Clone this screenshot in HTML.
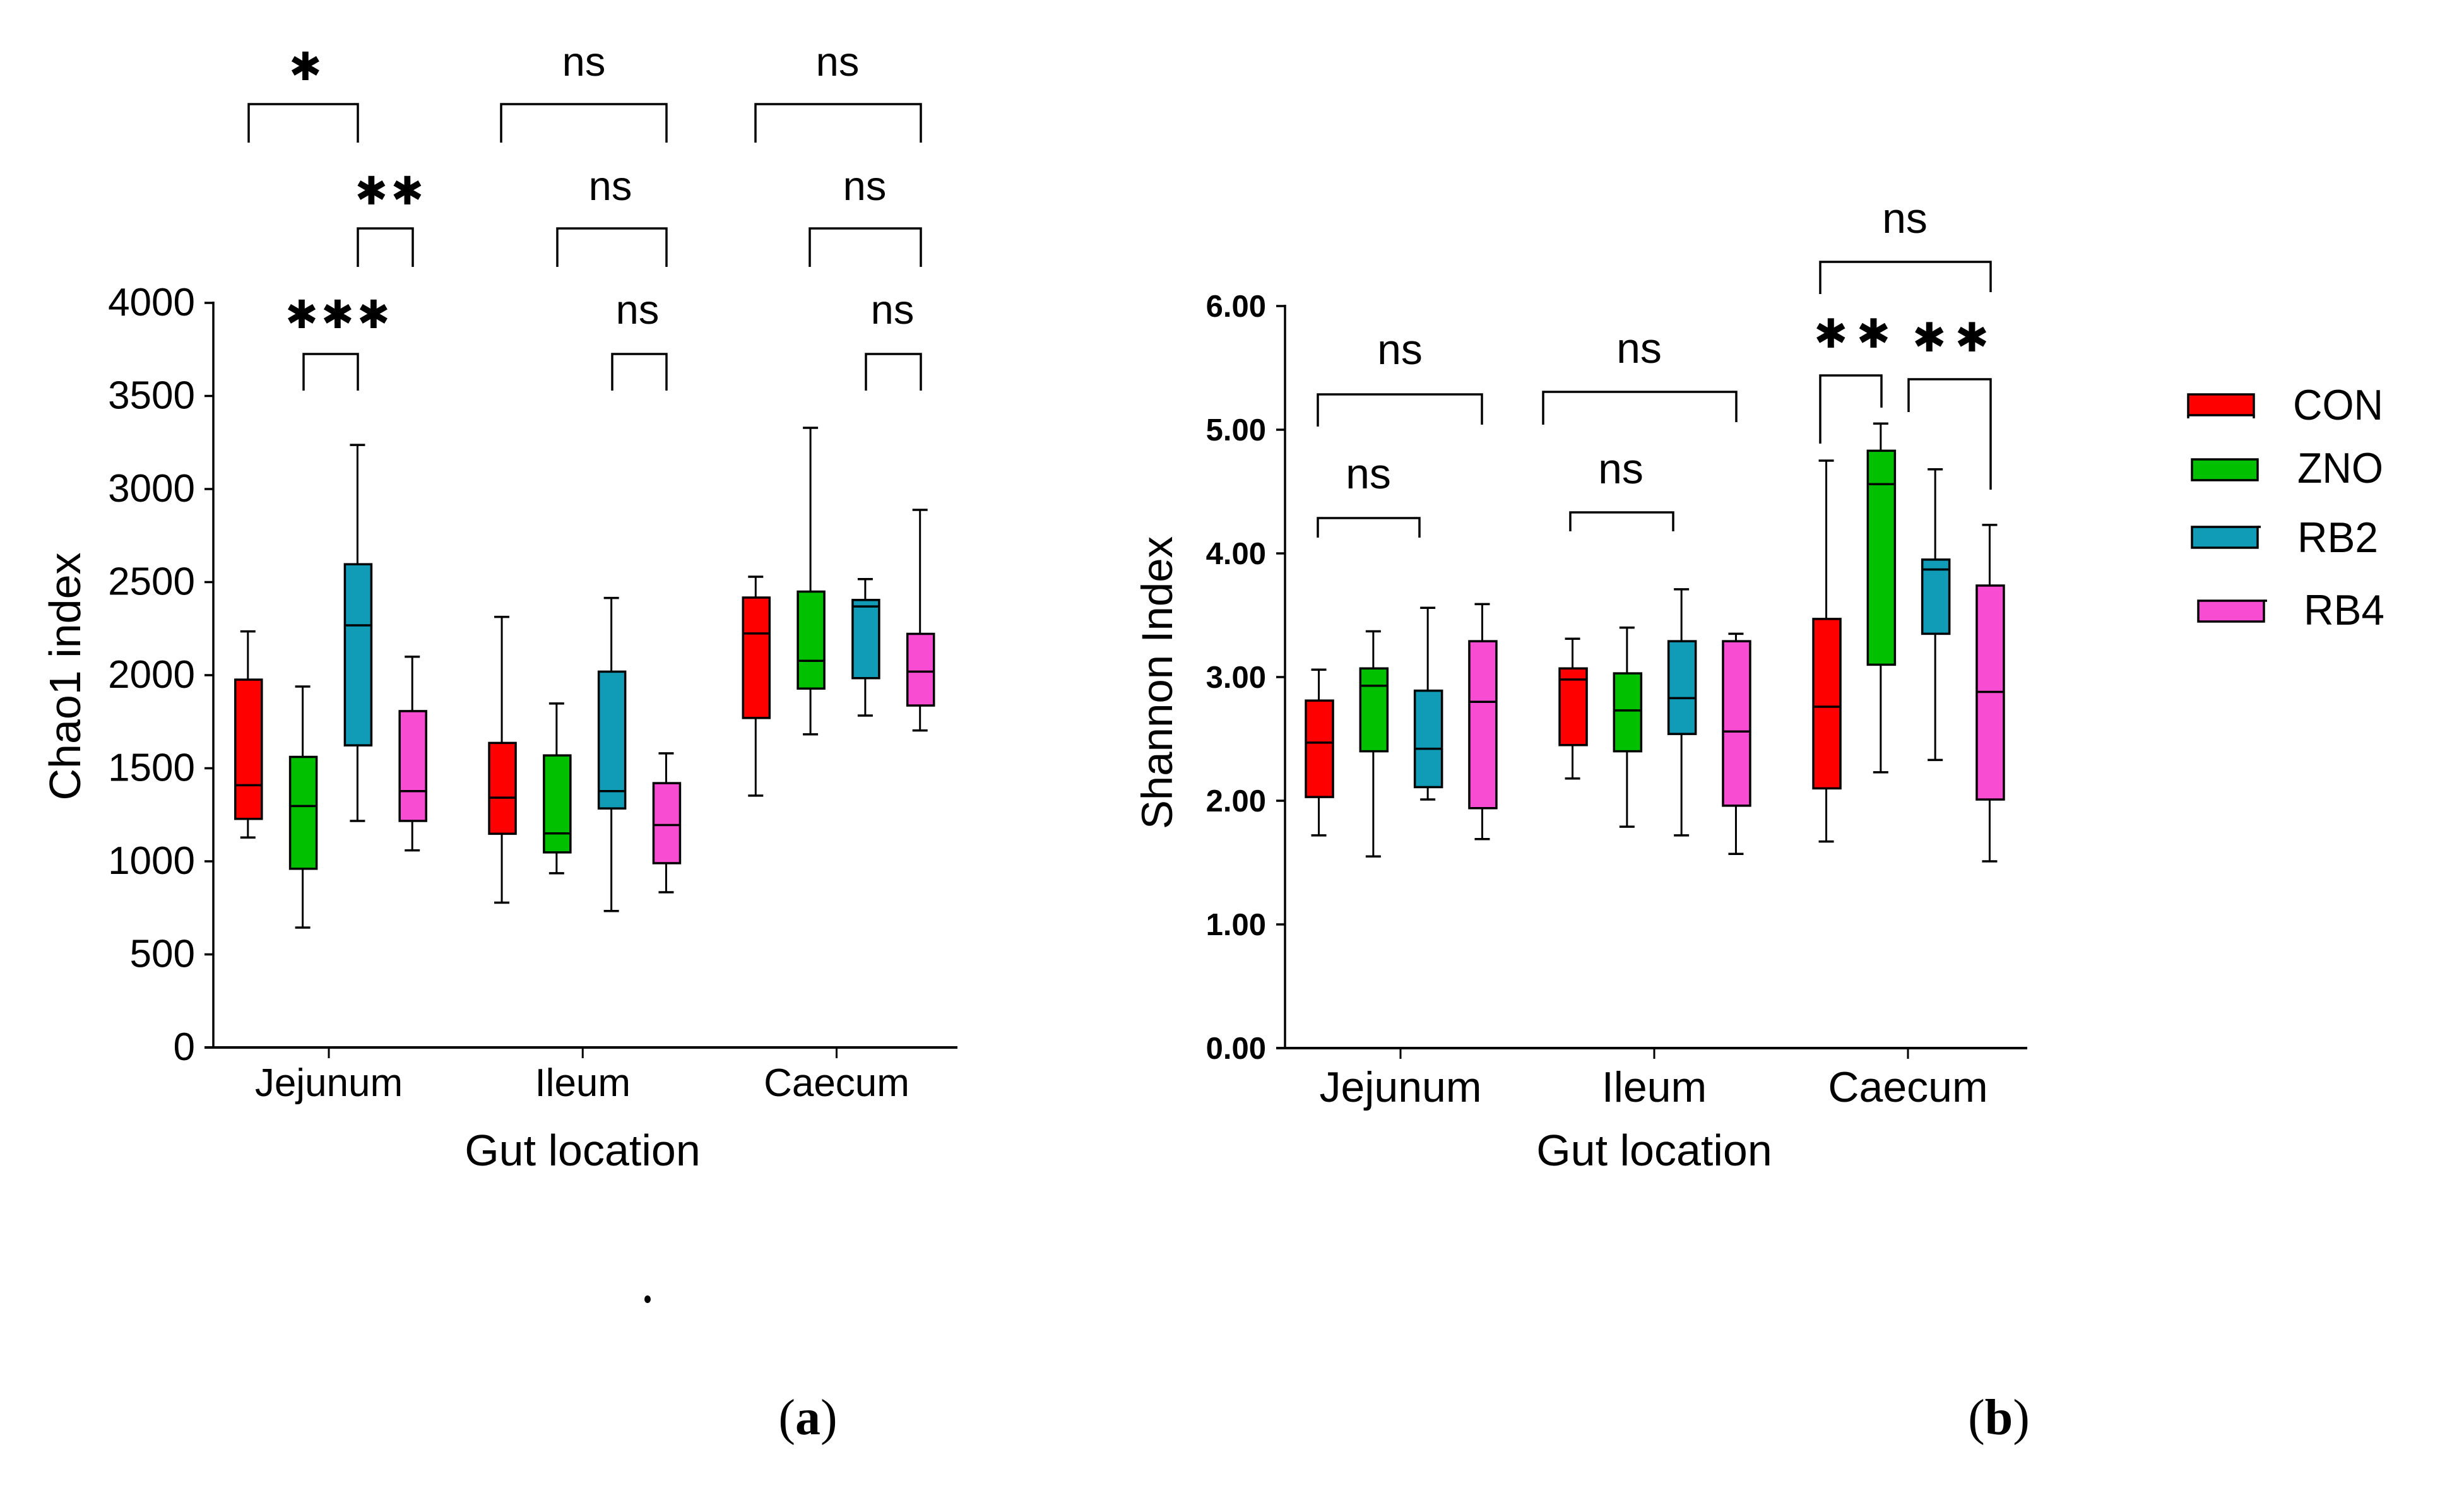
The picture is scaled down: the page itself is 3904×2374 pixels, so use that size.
<!DOCTYPE html>
<html lang="en">
<head>
<meta charset="utf-8">
<title>Chao1 and Shannon index by gut location</title>
<style>
html,body{margin:0;padding:0;background:#fff;width:3904px;height:2374px;overflow:hidden}
svg{display:block}
text{font-family:"Liberation Sans",sans-serif;fill:#000}
.br{fill:none;stroke:#000;stroke-width:3.5}
.ns{font-size:65px;text-anchor:middle}
.st{font-family:"DejaVu Sans",sans-serif;font-size:62px;text-anchor:middle;letter-spacing:5px}
.st2{font-size:64px;letter-spacing:14px}
.lg{font-size:68px}
.cap{font-family:"Liberation Serif",serif;font-size:80px;text-anchor:middle}
</style>
</head>
<body>
<svg id="figure" xmlns="http://www.w3.org/2000/svg" width="3904" height="2374" viewBox="0 0 3904 2374">
  <rect width="3904" height="2374" fill="#fff"/>
  <g id="panelA">
    <text transform="translate(127,1072) rotate(-90)" font-size="70" text-anchor="middle">Chao1 index</text>
    <text x="923" y="1847" font-size="70" text-anchor="middle">Gut location</text>
    <g>
      <path class="br" d="M394 226V165H567V226"/>
      <path class="br" d="M794 226V165H1056V226"/>
      <path class="br" d="M1197 226V165H1459V226"/>
      <path class="br" d="M567 423V362H654V423"/>
      <path class="br" d="M883 423V362H1056V423"/>
      <path class="br" d="M1283 423V362H1459V423"/>
      <path class="br" d="M481 619V561H567V619"/>
      <path class="br" d="M970 619V561H1056V619"/>
      <path class="br" d="M1372 619V561H1459V619"/>
      <text class="st" x="486.5" y="127">✱</text>
      <text class="st" x="619.5" y="324">✱✱</text>
      <text class="st" x="537.5" y="520">✱✱✱</text>
      <text class="ns" x="925" y="120">ns</text>
      <text class="ns" x="1327" y="120">ns</text>
      <text class="ns" x="967" y="317">ns</text>
      <text class="ns" x="1370" y="317">ns</text>
      <text class="ns" x="1010" y="513">ns</text>
      <text class="ns" x="1414" y="513">ns</text>
    </g>
  </g>
  <g id="panelB">
    <text transform="translate(1857,1082) rotate(-90)" font-size="69" text-anchor="middle">Shannon Index</text>
    <text x="2621" y="1847" font-size="70" text-anchor="middle">Gut location</text>
    <g>
      <path class="br" d="M2088 676V625H2348V673"/>
      <path class="br" d="M2088 852V821H2249V852"/>
      <path class="br" d="M2445 673V621H2751V669"/>
      <path class="br" d="M2488 842V812H2651V842"/>
      <path class="br" d="M2884 466V415H3154V463"/>
      <path class="br" d="M2884 703V595H2981V646"/>
      <path class="br" d="M3024 653V601H3154V776"/>
      <text class="ns" x="2218" y="577" style="font-size:68px">ns</text>
      <text class="ns" x="2168" y="774" style="font-size:68px">ns</text>
      <text class="ns" x="2597" y="575" style="font-size:68px">ns</text>
      <text class="ns" x="2568" y="766" style="font-size:68px">ns</text>
      <text class="ns" x="3018" y="369" style="font-size:68px">ns</text>
      <text class="st st2" x="2941.5" y="551">✱✱</text>
      <text class="st st2" x="3097.5" y="557">✱✱</text>
    </g>
  </g>
  <g id="legend">
    <g>
      <rect x="3467" y="625" width="104" height="33" fill="#ff0000" stroke="#000" stroke-width="3.5"/>
      <path d="M3467 658V663M3571 658V663" stroke="#000" stroke-width="3.5"/>
      <text class="lg" x="3633" y="665" textLength="143" lengthAdjust="spacingAndGlyphs">CON</text>
    </g>
    <g>
      <rect x="3473" y="728" width="104" height="33" fill="#00c000" stroke="#000" stroke-width="3.5"/>
      <text class="lg" x="3640" y="765" textLength="136" lengthAdjust="spacingAndGlyphs">ZNO</text>
    </g>
    <g>
      <rect x="3473" y="835" width="104" height="33" fill="#109bb6" stroke="#000" stroke-width="3.5"/>
      <path d="M3577 835H3582" stroke="#000" stroke-width="3.5"/>
      <text class="lg" x="3640" y="875" textLength="128" lengthAdjust="spacingAndGlyphs">RB2</text>
    </g>
    <g>
      <rect x="3483" y="952" width="104" height="33" fill="#f84dd3" stroke="#000" stroke-width="3.5"/>
      <path d="M3587 952H3592" stroke="#000" stroke-width="3.5"/>
      <text class="lg" x="3650" y="990" textLength="128" lengthAdjust="spacingAndGlyphs">RB4</text>
    </g>
  </g>
  <ellipse cx="1026" cy="2059" rx="5" ry="6" fill="#000"/>
  <text class="cap" x="1280" y="2273">(<tspan font-weight="700">a</tspan>)</text>
  <text class="cap" x="3167" y="2273">(<tspan font-weight="700">b</tspan>)</text>
</svg>
<script>
// Shared categories
const locations = ['Jejunum', 'Ileum', 'Caecum'];
const groups = ['CON', 'ZNO', 'RB2', 'RB4'];
const groupColors = ['#ff0000', '#00c000', '#109bb6', '#f84dd3'];

// Chao1 index: one row per location, each entry [low, q1, median, q3, high]
const chaoTicks = [0, 500, 1000, 1500, 2000, 2500, 3000, 3500, 4000];
const chaoCON = [[1128, 1228, 1409, 1976, 2235], [778, 1148, 1342, 1636, 2313], [1353, 1770, 2224, 2417, 2529]];
const chaoZNO = [[644, 960, 1297, 1561, 1939], [936, 1048, 1150, 1569, 1848], [1682, 1928, 2077, 2449, 3329]];
const chaoRB2 = [[1217, 1623, 2268, 2596, 3237], [733, 1284, 1377, 2019, 2415], [1783, 1984, 2369, 2404, 2516]];
const chaoRB4 = [[1059, 1217, 1377, 1807, 2099], [834, 990, 1195, 1420, 1580], [1703, 1837, 2019, 2222, 2888]];

// Shannon index: same layout
const shannonTicks = ['0.00', '1.00', '2.00', '3.00', '4.00', '5.00', '6.00'];
const shannonCON = [[1.72, 2.03, 2.47, 2.81, 3.06], [2.18, 2.45, 2.98, 3.07, 3.31], [1.67, 2.10, 2.76, 3.47, 4.75]];
const shannonZNO = [[1.55, 2.40, 2.93, 3.07, 3.37], [1.79, 2.40, 2.73, 3.03, 3.40], [2.23, 3.10, 4.56, 4.83, 5.05]];
const shannonRB2 = [[2.01, 2.11, 2.42, 2.89, 3.56], [1.72, 2.54, 2.83, 3.29, 3.71], [2.33, 3.35, 3.87, 3.95, 4.68]];
const shannonRB4 = [[1.69, 1.94, 2.80, 3.29, 3.59], [1.57, 1.96, 2.56, 3.29, 3.35], [1.51, 2.01, 2.88, 3.74, 4.23]];

const SVGNS = 'http://www.w3.org/2000/svg';
function mk(parent, tag, attrs) {
  const e = document.createElementNS(SVGNS, tag);
  for (const k in attrs) e.setAttribute(k, attrs[k]);
  parent.appendChild(e);
  return e;
}

function drawChart(cfg) {
  const parent = document.getElementById(cfg.parent);
  const y = v => cfg.y0 - Number(v) * cfg.yScale;
  const xGroup = i => cfg.x0 + i * cfg.groupStep;
  const xBox = (i, s) => xGroup(i) + cfg.boxShift + (s - 1.5) * cfg.boxStep;
  const yTop = y(cfg.ticks[cfg.ticks.length - 1]);

  const axes = mk(parent, 'g', {});
  
  

  const yAxis = mk(axes, 'line', {x1: cfg.axisX, x2: cfg.axisX, y1: yTop - 2, y2: cfg.y0 + 2, stroke: '#000', 'stroke-width': 3.5});
  
  

  const xAxis = mk(axes, 'line', {x1: cfg.axisX - 14, x2: cfg.axisEnd, y1: cfg.y0, y2: cfg.y0, stroke: '#000', 'stroke-width': 4});
  
  

  cfg.ticks.forEach(t => {
    const tick = mk(axes, 'line', {x1: cfg.axisX - 14, x2: cfg.axisX, y1: y(t), y2: y(t), stroke: '#000', 'stroke-width': 3.5});
    
    
    const lab = mk(axes, 'text', {x: cfg.labelRight, y: y(t) + cfg.labelDy, 'text-anchor': 'end', 'font-size': cfg.tickFont, 'font-weight': cfg.tickWeight});
    
    
    lab.textContent = t;
  });

  locations.forEach((loc, i) => {
    const tick = mk(axes, 'line', {x1: xGroup(i), x2: xGroup(i), y1: cfg.y0, y2: cfg.y0 + 17, stroke: '#000', 'stroke-width': 3});
    
    
    const lab = mk(axes, 'text', {x: xGroup(i), y: cfg.catY, 'text-anchor': 'middle', 'font-size': cfg.catFont});
    
    
    lab.textContent = loc;
  });

  cfg.series.forEach((rows, s) => {
    rows.forEach((row, i) => {
      const [low, q1, med, q3, high] = row;
      const cx = xBox(i, s);
      const g = mk(parent, 'g', {});
      
      

      const whisker = mk(g, 'line', {x1: cx - 1, x2: cx - 1, y1: y(high), y2: y(low), stroke: '#000', 'stroke-width': 3});
      
      

      [high, low].forEach(v => {
        const cap = mk(g, 'line', {x1: cx - 13, x2: cx + 11, y1: y(v), y2: y(v), stroke: '#000', 'stroke-width': 3.5});
        
        
      });

      const box = mk(g, 'rect', {x: cx - cfg.boxW / 2, width: cfg.boxW, y: y(q3), height: y(q1) - y(q3), fill: groupColors[s], stroke: '#000', 'stroke-width': 3.5});
      
      

      const median = mk(g, 'line', {x1: cx - cfg.boxW / 2, x2: cx + cfg.boxW / 2, y1: y(med), y2: y(med), stroke: '#000', 'stroke-width': 3.5});
      
      
    });
  });
}

drawChart({
  parent: 'panelA', prefix: 'chao1', ticks: chaoTicks,
  series: [chaoCON, chaoZNO, chaoRB2, chaoRB4],
  y0: 1660, yScale: 0.295, axisX: 338, axisEnd: 1517,
  x0: 521, groupStep: 402.25, boxShift: 3, boxStep: 86.8, boxW: 42,
  labelRight: 309, labelDy: 20, tickFont: 62, tickWeight: 400, catY: 1737, catFont: 62
});

drawChart({
  parent: 'panelB', prefix: 'shannon', ticks: shannonTicks,
  series: [shannonCON, shannonZNO, shannonRB2, shannonRB4],
  y0: 1661, yScale: 196, axisX: 2036, axisEnd: 3212,
  x0: 2219, groupStep: 402, boxShift: 1, boxStep: 86.3, boxW: 43,
  labelRight: 2006, labelDy: 17, tickFont: 49, tickWeight: 700, catY: 1746, catFont: 68
});
</script>
</body>
</html>
